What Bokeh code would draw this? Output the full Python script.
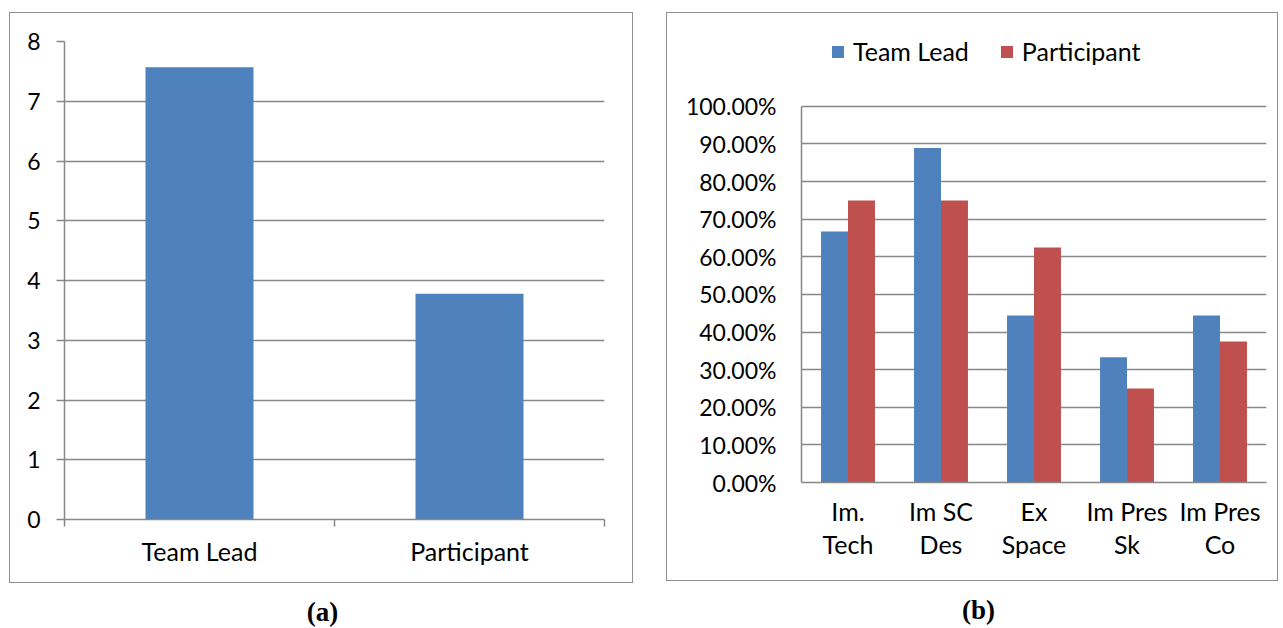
from bokeh.plotting import figure
from bokeh.models import (Range1d, FixedTicker, NumeralTickFormatter, Legend, LegendItem, Div)
from bokeh.layouts import row, column
from bokeh.embed import file_html
from bokeh.resources import INLINE

# ---- data ----
roles = ["Team Lead", "Participant"]
role_values = [7.57, 3.78]
role_ticks = [0, 1, 2, 3, 4, 5, 6, 7, 8]

skills = ["Im.\nTech", "Im SC\nDes", "Ex\nSpace", "Im Pres\nSk", "Im Pres\nCo"]
team_lead = [0.667, 0.889, 0.444, 0.333, 0.444]
participant = [0.75, 0.75, 0.625, 0.25, 0.375]
pct_ticks = [0.0, 0.1, 0.2, 0.3, 0.4, 0.5, 0.6, 0.7, 0.8, 0.9, 1.0]

BLUE = "#4F81BD"
RED = "#C0504D"
GRID = "#878787"
FONT = "Lato"
FRAME = "1.5px solid #8f8f8f"

# ---- panel (a) ----
p1 = figure(width=624, height=571, x_range=Range1d(0, len(roles)), y_range=Range1d(0, 8),
            output_backend="svg", toolbar_location=None,
            min_border_left=54, min_border_right=30, min_border_top=28, min_border_bottom=65,
            outline_line_color=None, styles={"border": FRAME}, margin=(12, 0, 0, 9))
xs1 = [i + 0.5 for i in range(len(roles))]
p1.vbar(x=xs1, top=role_values, width=0.4, fill_color=BLUE, line_color=None)
p1.xaxis.ticker = FixedTicker(ticks=xs1, minor_ticks=list(range(len(roles) + 1)))
p1.xaxis.major_label_overrides = {x: r for x, r in zip(xs1, roles)}
p1.xaxis.major_tick_out = 0
p1.xaxis.major_tick_in = 0
p1.xaxis.minor_tick_out = 7
p1.xaxis.minor_tick_in = 0
p1.xaxis.minor_tick_line_color = GRID
p1.xaxis.minor_tick_line_width = 1.5
p1.xaxis.major_label_standoff = 9
p1.yaxis.ticker = FixedTicker(ticks=role_ticks)
p1.yaxis.major_tick_out = 8
p1.yaxis.major_tick_in = 0
p1.yaxis.minor_tick_line_color = None
p1.yaxis.major_tick_line_color = GRID
p1.yaxis.major_tick_line_width = 1.5
p1.yaxis.major_label_standoff = 16
p1.xgrid.grid_line_color = None
p1.ygrid.grid_line_color = GRID
p1.ygrid.grid_line_width = 1.5
for ax in (p1.xaxis, p1.yaxis):
    ax.axis_line_color = GRID
    ax.axis_line_width = 1.5
    ax.major_label_text_font = FONT
    ax.major_label_text_color = "#000000"
p1.xaxis.major_label_text_font_size = "25px"
p1.yaxis.major_label_text_font_size = "23px"

# ---- panel (b) ----
# the y range reaches a little above 100% so that the legend fits above the grid
p2 = figure(width=612, height=569, x_range=Range1d(0, len(skills)), y_range=Range1d(0, 1.183),
            output_backend="svg", toolbar_location=None,
            min_border_left=134, min_border_right=13, min_border_top=24, min_border_bottom=100,
            outline_line_color=None, styles={"border": FRAME}, margin=(12, 0, 0, 33))
xs2 = [i + 0.5 for i in range(len(skills))]
bw = 0.29
r1 = p2.vbar(x=[x - bw / 2 for x in xs2], top=team_lead, width=bw, fill_color=BLUE, line_color=None)
r2 = p2.vbar(x=[x + bw / 2 for x in xs2], top=participant, width=bw, fill_color=RED, line_color=None)
p2.xaxis.ticker = FixedTicker(ticks=xs2)
p2.xaxis.major_label_overrides = {x: s for x, s in zip(xs2, skills)}
p2.xaxis.major_tick_out = 0
p2.xaxis.major_tick_in = 0
p2.xaxis.minor_tick_line_color = None
p2.xaxis.major_label_standoff = 13
p2.xaxis.major_label_text_line_height = 1.1
p2.yaxis.ticker = FixedTicker(ticks=pct_ticks)
p2.yaxis.formatter = NumeralTickFormatter(format="0.00%")
p2.yaxis.bounds = (pct_ticks[0], pct_ticks[-1])
p2.yaxis.major_tick_out = 0
p2.yaxis.major_tick_in = 0
p2.yaxis.minor_tick_line_color = None
p2.yaxis.major_label_standoff = 25
p2.xgrid.grid_line_color = None
p2.ygrid.grid_line_color = GRID
p2.ygrid.grid_line_width = 1.5
for ax in (p2.xaxis, p2.yaxis):
    ax.axis_line_color = GRID
    ax.axis_line_width = 1.5
    ax.major_label_text_font = FONT
    ax.major_label_text_color = "#000000"
p2.xaxis.major_label_text_font_size = "25px"
p2.yaxis.major_label_text_font_size = "23px"

legend = Legend(items=[LegendItem(label="Team Lead", renderers=[r1]),
                       LegendItem(label="Participant", renderers=[r2])],
                orientation="horizontal", location=(29, 416),
                glyph_width=15, glyph_height=15, label_standoff=8, spacing=30,
                padding=0, margin=0, border_line_color=None, background_fill_alpha=0,
                label_text_font=FONT, label_text_font_size="25px", label_text_color="#000000")
p2.add_layout(legend, "center")

cap_style = {"font-family": "Liberation Serif", "font-size": "27px", "font-weight": "bold",
             "text-align": "center", "width": "100%", "line-height": "28px"}
cap_a = Div(text="(a)", width=626, height=28, styles=cap_style, margin=(15, 0, 0, 6))
cap_b = Div(text="(b)", width=622, height=28, styles=cap_style, margin=(15, 0, 0, 23))

layout = row(column(p1, cap_a), column(p2, cap_b))

open("out.html", "w").write(file_html(layout, INLINE))
